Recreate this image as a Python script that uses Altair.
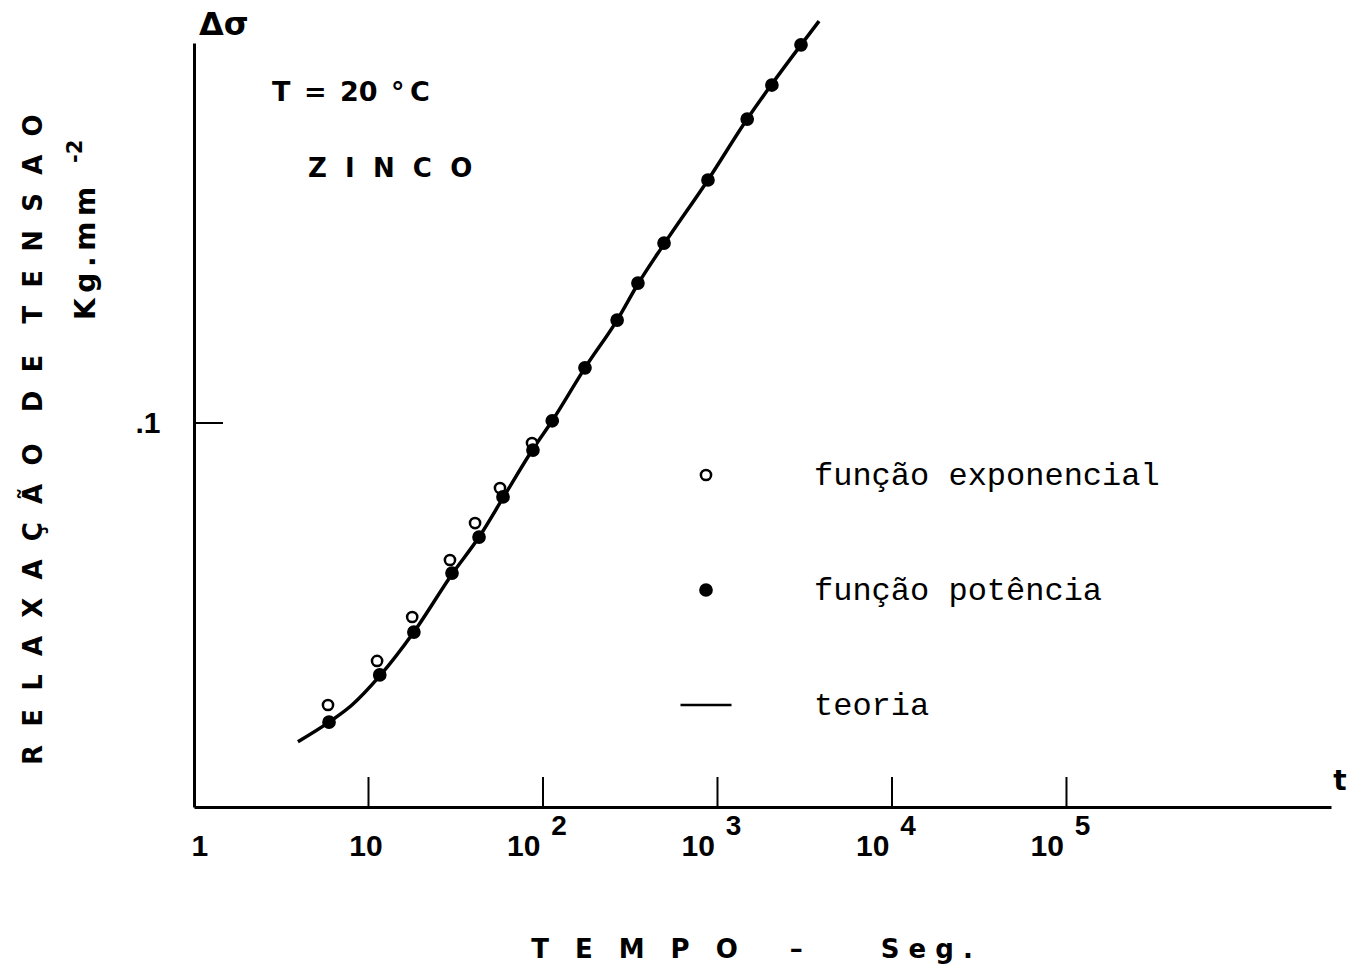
import altair as alt
import pandas as pd

# Stress relaxation of zinc at 20 °C, log-log: time (s) vs. relaxation (kg/mm^2)
t_exp = [5.86, 11.2, 17.8, 29.3, 40.8, 56.7, 86.5]
s_exp = [0.00242, 0.00433, 0.00773, 0.0164, 0.0267, 0.0424, 0.0768]

t_pot = [5.94, 11.6, 18.2, 30.1, 43.0, 59.0, 87.6, 113, 174, 266, 350, 494,
         882, 1480, 2050, 3010]
s_pot = [0.00193, 0.00360, 0.00634, 0.0138, 0.0222, 0.0377, 0.0700, 0.103,
         0.207, 0.389, 0.634, 1.075, 2.47, 5.52, 8.65, 14.7]

t_teo = [3.94, 5.94, 8.04, 11.6, 18.2, 30.1, 43.0, 59.0, 87.6, 113, 174, 266,
         350, 494, 882, 1480, 2050, 3010, 3820]
s_teo = [0.00149, 0.00193, 0.00242, 0.00355, 0.00634, 0.0136, 0.0222, 0.0372,
         0.0710, 0.103, 0.207, 0.389, 0.626, 1.06, 2.47, 5.52, 8.76, 14.7, 20.1]

series = ["função exponencial", "função potência", "teoria"]

x_label_values = [1, 10, 100, 1000, 10000, 100000]
x_tick_values = [10, 100, 1000, 10000, 100000]
exp_values = [100, 1000, 10000, 100000]
exp_text = ["2", "3", "4", "5"]
y_tick_values = [0.1]

x_domain = [1, 3.28e6]
y_domain = [0.00063, 15.06]


def spaced(word, sep):
    return sep.join(list(word))


EN, EM, THIN = "\u2002", "\u2003", "\u2009"
y_title = (spaced("RELAXAÇÃO", EN + THIN) + EM + THIN + spaced("DE", EN + THIN)
           + EM + THIN + spaced("TENSAO", EN + THIN))
y_unit = "K" + THIN + "g" + THIN + "." + THIN + "m" + THIN + "m"
y_unit_exp = "-2"
x_title = spaced("TEMPO", EM) + EM + EM + "–" + EM + EM + EM + spaced("Seg.", " ")
temp_text = "T" + EN + "=" + EN + "20" + EN + "°" + THIN + "C"
metal_text = spaced("ZINCO", EN + THIN)
delta_text = "Δσ"
t_text = "t"

W, H = 1137, 764
BOLD_SANS = "DejaVu Sans"
NUM_FONT = "Liberation Sans"

# marker outlines drawn inside the [-1, 1] symbol box
HOLLOW = "M0.2,0A0.2,0.2,0,1,1,-0.2,0A0.2,0.2,0,1,1,0.2,0Z"
DOT = "M0.22,0A0.22,0.22,0,1,1,-0.22,0A0.22,0.22,0,1,1,0.22,0Z"
DASH = "M-1,0L1,0"
SYM = 2601

pts = pd.concat([
    pd.DataFrame({"t": t_exp, "s": s_exp, "serie": series[0]}),
    pd.DataFrame({"t": t_pot, "s": s_pot, "serie": series[1]}),
])
teo = pd.DataFrame({"t": t_teo, "s": s_teo})

x_axis = alt.Axis(
    values=x_label_values,
    labelExpr="datum.value < 5 ? '1' : '10'",
    labelAlign={"condition": [
        {"test": "datum.value < 5", "value": "left"},
        {"test": "datum.value >= 50", "value": "right"}],
        "value": "center"},
    labelOffset=-3,
    labelFlush=False, labelOverlap=False, labelBound=False,
    labelPadding=24, labelBaseline="top",
    ticks=False, tickSize=0, grid=False, title=None,
)
y_axis = alt.Axis(
    values=y_tick_values, labelExpr="'.1'", labelPadding=34,
    labelOverlap=False, labelBound=False, labelFlush=False,
    ticks=False, tickSize=0, grid=False, title=None,
)
X = alt.X("t:Q", scale=alt.Scale(type="log", domain=x_domain, nice=False),
          axis=x_axis)
Y = alt.Y("s:Q", scale=alt.Scale(type="log", domain=y_domain, nice=False),
          axis=y_axis)

line = alt.Chart(teo).mark_line(
    color="black", strokeWidth=3.5, interpolate="monotone"
).encode(x=X, y=Y)

points = alt.Chart(pts).mark_point(
    strokeWidth=2.5, opacity=1, size=SYM
).encode(
    x=X, y=Y,
    shape=alt.Shape("serie:N", scale=alt.Scale(domain=series,
                    range=[HOLLOW, DOT, DASH]),
                    legend=alt.Legend(
                        orient="none", legendX=485, legendY=405, title=None,
                        labelFont="Liberation Mono", labelFontSize=32,
                        labelFontWeight="normal", labelColor="black",
                        labelOffset=81, labelLimit=800, rowPadding=72,
                        symbolSize=SYM, symbolStrokeWidth=2.5)),
    fill=alt.Fill("serie:N", scale=alt.Scale(domain=series,
                  range=["white", "black", "black"])),
    stroke=alt.Stroke("serie:N", scale=alt.Scale(domain=series,
                      range=["black", "black", "black"])),
)

xticks = alt.Chart(pd.DataFrame({"t": x_tick_values})).mark_rule(
    color="black", strokeWidth=2
).encode(x=X, y=alt.value(H), y2=alt.value(H - 30))

yticks = alt.Chart(pd.DataFrame({"s": y_tick_values})).mark_rule(
    color="black", strokeWidth=2
).encode(y=Y, x=alt.value(0), x2=alt.value(29))

exps = alt.Chart(pd.DataFrame({"t": exp_values, "e": exp_text})).mark_text(
    font=NUM_FONT, fontSize=28, fontWeight="bold", color="black",
    align="center", baseline="alphabetic", dx=16
).encode(x=X, y=alt.value(H + 28), text="e:N")


def note(txt, x, y, size, font=BOLD_SANS, weight="bold", angle=0,
         align="left", baseline="alphabetic"):
    return alt.Chart(alt.Data(values=[{"txt": txt}])).mark_text(
        font=font, fontSize=size, fontWeight=weight, angle=angle,
        align=align, baseline=baseline, color="black"
    ).encode(x=alt.value(x), y=alt.value(y), text="txt:N")


notes = [
    note(delta_text, 5, -8, 32),
    note(temp_text, 78, 58, 27),
    note(metal_text, 114, 134, 26),
    note(t_text, 1146, 747, 28, align="center"),
    note(y_title, -152, 722, 26, angle=270),
    note(y_unit, -99, 277, 28, angle=270),
    note(y_unit_exp, -112, 120, 21, angle=270),
    note(x_title, 558, 915, 26, align="center"),
]

chart = alt.layer(line, points, xticks, yticks, exps, *notes).properties(
    width=W, height=H,
    autosize=alt.AutoSizeParams(type="none"),
    padding={"left": 194, "top": 43, "right": 18, "bottom": 163},
    background="white",
).configure_view(stroke="transparent").configure_axis(
    domainColor="black", domainWidth=3, labelColor="black",
    labelFont=NUM_FONT, labelFontSize=30, labelFontWeight="bold",
)

chart.save("out.html", embed_options={"renderer": "svg", "actions": False})
